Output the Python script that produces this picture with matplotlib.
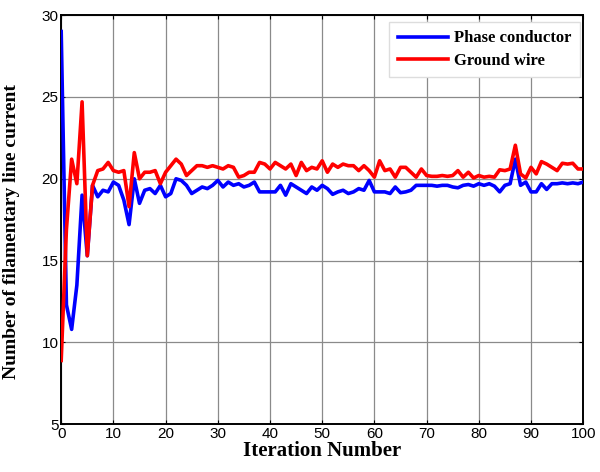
import matplotlib
matplotlib.use("Agg")
import matplotlib.pyplot as plt
import numpy as np

iterations = list(range(0, 101))

phase_conductor = [
    29.0, 12.3, 10.8, 13.5, 19.0, 15.3, 19.6, 18.9, 19.3, 19.2,
    19.8, 19.6, 18.7, 17.2, 20.0, 18.5, 19.3, 19.4, 19.1, 19.6,
    18.9, 19.1, 20.0, 19.9, 19.6, 19.1, 19.3, 19.5, 19.4, 19.6,
    19.9, 19.5, 19.8, 19.6, 19.7, 19.5, 19.6, 19.8, 19.2, 19.2,
    19.2, 19.2, 19.6, 19.0, 19.7, 19.5, 19.3, 19.1, 19.5, 19.3,
    19.6, 19.4, 19.05, 19.2, 19.3, 19.1, 19.2, 19.4, 19.3, 19.9,
    19.2, 19.2, 19.2, 19.1, 19.5, 19.15, 19.2, 19.3, 19.6, 19.6,
    19.6, 19.6, 19.55, 19.6, 19.6, 19.5, 19.45, 19.6, 19.65, 19.55,
    19.7, 19.6, 19.7, 19.55, 19.2, 19.6, 19.7, 21.2, 19.6, 19.8,
    19.2, 19.2, 19.7, 19.35, 19.7, 19.7, 19.75, 19.7, 19.75, 19.7,
    19.8,
]

ground_wire = [
    8.9, 16.9, 21.2, 19.7, 24.7, 15.3, 19.6, 20.5, 20.6, 21.0,
    20.5, 20.4, 20.5, 18.3, 21.6, 20.0, 20.4, 20.4, 20.5, 19.7,
    20.4, 20.8, 21.2, 20.9, 20.2, 20.5, 20.8, 20.8, 20.7, 20.8,
    20.7, 20.6, 20.8, 20.7, 20.1, 20.2, 20.4, 20.4, 21.0, 20.9,
    20.6, 21.0, 20.8, 20.6, 20.9, 20.2, 21.0, 20.5, 20.7, 20.6,
    21.1, 20.4, 20.9, 20.7, 20.9, 20.8, 20.8, 20.5, 20.8, 20.5,
    20.1, 21.1, 20.5, 20.6, 20.1, 20.7, 20.7, 20.4, 20.1, 20.6,
    20.2, 20.15, 20.15, 20.2, 20.15, 20.2, 20.5, 20.1, 20.4, 20.05,
    20.2, 20.1, 20.15, 20.1, 20.55, 20.5, 20.6, 22.05, 20.3, 20.05,
    20.7, 20.3, 21.05, 20.9, 20.7, 20.5, 20.95, 20.9, 20.95, 20.6,
    20.6,
]

x_ticks = [0, 10, 20, 30, 40, 50, 60, 70, 80, 90, 100]
y_ticks = [5, 10, 15, 20, 25, 30]

serif = ["Liberation Serif", "DejaVu Serif"]
sans = ["Liberation Sans", "DejaVu Sans"]

fig = plt.figure(figsize=(6.0, 4.72), dpi=100)
ax = fig.add_axes([0.102, 0.101, 0.870, 0.867])

ax.plot(iterations, phase_conductor, color="#0000ff", lw=2.6, label="Phase conductor", zorder=3)
ax.plot(iterations, ground_wire, color="#ff0000", lw=2.6, label="Ground wire", zorder=3)

ax.set_xlim(0, 100)
ax.set_ylim(5, 30)
ax.set_xticks(x_ticks)
ax.set_yticks(y_ticks)
ax.grid(True, color="#8a8a8a", lw=0.9, ls="-")
ax.set_axisbelow(True)
ax.tick_params(direction="in", top=True, right=True, length=3, width=0.8,
               labelsize=11, pad=2)
for lab in ax.get_xticklabels() + ax.get_yticklabels():
    lab.set_family(sans)
for sp in ax.spines.values():
    sp.set_linewidth(1.4)
    sp.set_color("black")

ax.set_xlabel("Iteration Number", family=serif, fontweight="bold", fontsize=15, labelpad=0)
ax.set_ylabel("Number of filamentary line current", family=serif, fontweight="bold", fontsize=14)
ax.yaxis.set_label_coords(-0.078, 0.47)

leg = ax.legend(loc="upper right", prop={"family": serif, "weight": "bold", "size": 12},
                frameon=True, fancybox=False, edgecolor="#dddddd", framealpha=1.0,
                handlelength=3.0, handletextpad=0.4, borderpad=0.5, labelspacing=0.4,
                borderaxespad=0.0, bbox_to_anchor=(0.994, 0.983))
leg.get_frame().set_linewidth(1.0)

fig.savefig("out.png", dpi=100)
